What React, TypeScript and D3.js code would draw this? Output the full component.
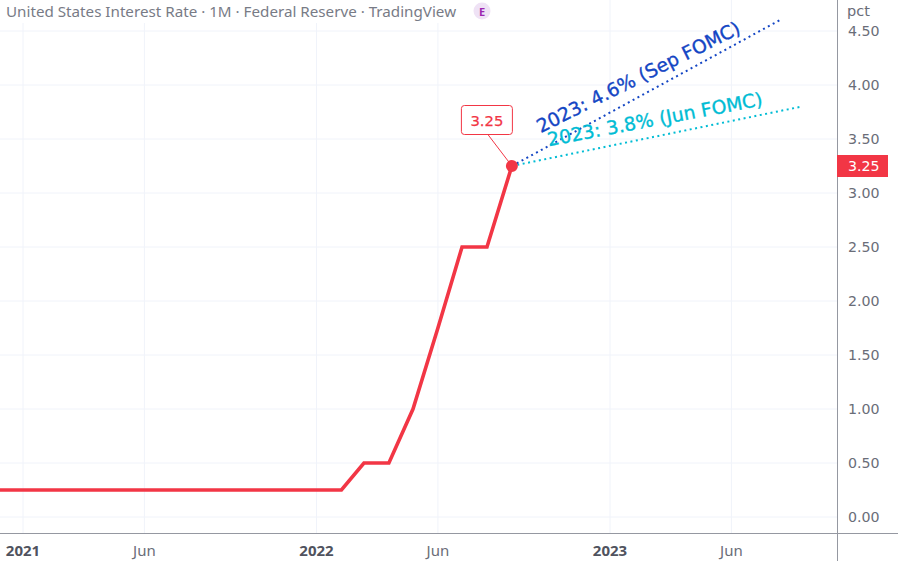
import React from "react";
import * as d3 from "d3";

// Monthly effective target rate (upper bound), pct
const rateMonths = [
  "2020-11-01", "2020-12-01",
  "2021-01-01", "2021-02-01", "2021-03-01", "2021-04-01", "2021-05-01", "2021-06-01",
  "2021-07-01", "2021-08-01", "2021-09-01", "2021-10-01", "2021-11-01", "2021-12-01",
  "2022-01-01", "2022-02-01", "2022-03-01", "2022-04-01", "2022-05-01", "2022-06-01",
  "2022-07-01", "2022-08-01", "2022-09-01",
];
const rateValues = [
  0.25, 0.25,
  0.25, 0.25, 0.25, 0.25, 0.25, 0.25,
  0.25, 0.25, 0.25, 0.25, 0.25, 0.25,
  0.25, 0.25, 0.5, 0.5, 1.0, 1.75,
  2.5, 2.5, 3.25,
];

// FOMC projections for 2023
const projLabels = ["2023: 4.6% (Sep FOMC)", "2023: 3.8% (Jun FOMC)"];
const projEndDates = ["2023-07-31", "2023-08-27"];
const projEndValues = [4.6, 3.8];

const yTicks = [0, 0.5, 1, 1.5, 2, 2.5, 3, 3.5, 4, 4.5];
const xTickDates = ["2021-01-01", "2021-06-01", "2022-01-01", "2022-06-01", "2023-01-01", "2023-06-01"];
const xTickLabels = ["2021", "Jun", "2022", "Jun", "2023", "Jun"];

const W = 898;
const H = 561;
const PLOT_R = 837;
const PLOT_B = 533;
const RED = "#f23645";
const PROJ_COLORS = ["#1446c4", "#00bcd4"];
// label placement along / above each projection line
const PROJ_TEXT_ALONG = [41, 40];
const PROJ_TEXT_ABOVE = [15, 12];
const GRID = "#f0f3fa";
const AXIS = "#9598a1";
const SANS = "'Noto Sans', 'DejaVu Sans', sans-serif";
const NUM = "'DejaVu Sans', Verdana, sans-serif";

const parse = (s: string) => new Date(s + "T00:00:00Z");

export default function App() {
  const x = d3
    .scaleUtc()
    .domain([parse("2021-01-01"), parse("2023-01-01")])
    .range([23, 610]);
  const y = d3.scaleLinear().domain([0, 4.5]).range([517, 31]);

  const points = rateMonths.map((m, i) => ({ d: parse(m), v: rateValues[i] }));
  const line = d3
    .line<{ d: Date; v: number }>()
    .x((p) => x(p.d))
    .y((p) => y(p.v));

  const last = points[points.length - 1];
  const lx = x(last.d);
  const ly = y(last.v);

  const fmt = d3.format(".2f");

  return (
    <svg
      width={W}
      height={H}
      style={{ position: "fixed", left: 0, top: 0, background: "#fff", fontFamily: SANS }}
    >
      <defs>
        <clipPath id="plot-clip">
          <rect x={0} y={0} width={PLOT_R} height={PLOT_B} />
        </clipPath>
      </defs>

      {/* grid */}
      {yTicks.map((t) => (
        <line key={"gy" + t} x1={0} x2={PLOT_R} y1={y(t)} y2={y(t)} stroke={GRID} strokeWidth={1} />
      ))}
      {xTickDates.map((t) => (
        <line key={"gx" + t} x1={x(parse(t))} x2={x(parse(t))} y1={0} y2={PLOT_B} stroke={GRID} strokeWidth={1} />
      ))}

      {/* legend band */}
      <rect x={0} y={0} width={496} height={23} fill="#fff" />
      <text x={6} y={17} fontSize={15.2} fill="#787b86">
        United States Interest Rate · 1M · Federal Reserve · TradingView
      </text>
      <circle cx={482} cy={11} r={8.5} fill="#efe2f5" />
      <text x={482} y={15.5} fontSize={11} fontWeight={700} fill="#9c27b0" textAnchor="middle">
        E
      </text>

      <g clipPath="url(#plot-clip)">
        {/* projections */}
        {projLabels.map((lab, i) => {
          const ex = x(parse(projEndDates[i]));
          const ey = y(projEndValues[i]);
          const ang = Math.atan2(ey - ly, ex - lx);
          const deg = (ang * 180) / Math.PI * 0.93;
          const s = PROJ_TEXT_ALONG[i];
          const o = PROJ_TEXT_ABOVE[i];
          const tx = lx + s * Math.cos(ang) + o * Math.sin(ang);
          const ty = ly + s * Math.sin(ang) - o * Math.cos(ang);
          return (
            <g key={lab}>
              <line
                x1={lx}
                y1={ly}
                x2={ex}
                y2={ey}
                stroke={PROJ_COLORS[i]}
                strokeWidth={2}
                strokeDasharray="2 3.5"
              />
              <text
                x={tx}
                y={ty}
                fontSize={18.8}
                fontFamily={NUM}
                fill={PROJ_COLORS[i]}
                stroke={PROJ_COLORS[i]}
                strokeWidth={0.35}
                transform={`rotate(${deg} ${tx} ${ty})`}
              >
                {lab}
              </text>
            </g>
          );
        })}

        {/* rate series */}
        <path d={line(points) || ""} fill="none" stroke={RED} strokeWidth={3.6} strokeLinejoin="miter" />
        <circle cx={lx} cy={ly} r={6} fill={RED} />

        {/* value callout */}
        <line x1={lx - 24} y1={ly - 31.5} x2={lx} y2={ly} stroke={RED} strokeWidth={1} />
        <rect x={lx - 50.5} y={ly - 60.5} width={51} height={29} rx={3} fill="#fff" stroke={RED} strokeWidth={1} />
        <text
          x={lx - 25}
          y={ly - 40.5}
          fontSize={14.8}
          fontFamily={NUM}
          fill={RED}
          stroke={RED}
          strokeWidth={0.25}
          textAnchor="middle"
        >
          {fmt(last.v)}
        </text>
      </g>

      {/* axes */}
      <line x1={PLOT_R + 0.5} x2={PLOT_R + 0.5} y1={0} y2={H} stroke={AXIS} strokeWidth={1} />
      <line x1={0} x2={W} y1={PLOT_B + 0.5} y2={PLOT_B + 0.5} stroke={AXIS} strokeWidth={1} />

      <text x={847} y={16} fontSize={14.5} fontFamily={NUM} fill="#6a6d78">
        pct
      </text>
      {yTicks.map((t) => (
        <text key={"ly" + t} x={848} y={y(t) + 5} fontSize={14.2} fontFamily={NUM} fill="#6a6d78">
          {fmt(t)}
        </text>
      ))}

      {/* last value tag */}
      <rect x={PLOT_R} y={ly - 11} width={51} height={22} fill={RED} />
      <text x={848} y={ly + 5} fontSize={14.2} fontFamily={NUM} fill="#fff">
        {fmt(last.v)}
      </text>

      {xTickDates.map((t, i) => (
        <text
          key={"lx" + t}
          x={x(parse(t))}
          y={556}
          fontSize={15}
          textAnchor="middle"
          fill={i % 2 === 0 ? "#50535e" : "#6a6d78"}
          fontWeight={i % 2 === 0 ? 700 : 400}
        >
          {xTickLabels[i]}
        </text>
      ))}
    </svg>
  );
}
